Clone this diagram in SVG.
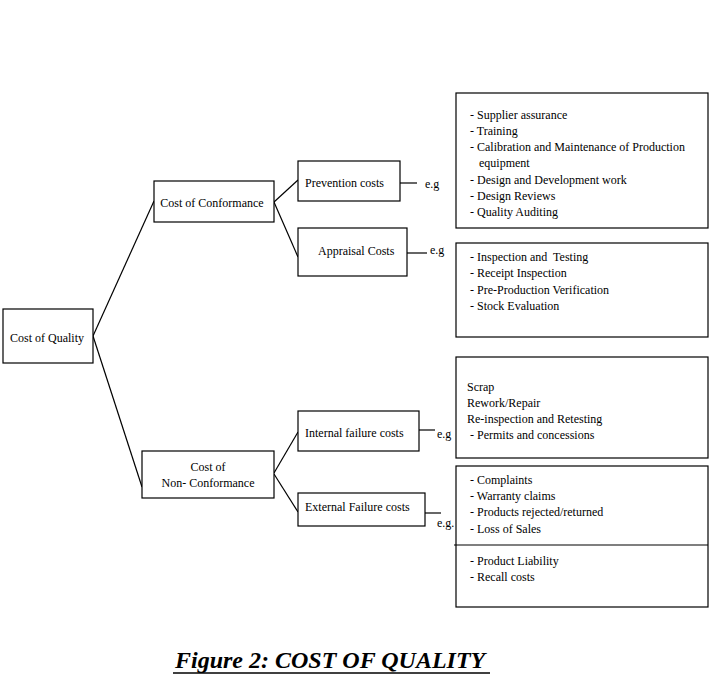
<svg xmlns="http://www.w3.org/2000/svg" width="722" height="681" viewBox="0 0 722 681">
<style>
rect{fill:#fff;stroke:#000;stroke-width:1.2}
line{stroke:#000;stroke-width:1.2}
text{font-family:"Liberation Serif","Times New Roman",serif;font-size:12px;fill:#000;white-space:pre}
.c{text-anchor:middle}
.t{font-size:24px;font-weight:bold;font-style:italic}
</style>
<rect x="0" y="0" width="722" height="681" style="stroke:none"/>
<g id="connectors">
<line x1="93" y1="336" x2="154" y2="201"/>
<line x1="93" y1="336" x2="142" y2="487"/>
<line x1="274" y1="202" x2="298" y2="180"/>
<line x1="274" y1="202" x2="298" y2="257"/>
<line x1="274" y1="473" x2="298" y2="432"/>
<line x1="274" y1="474" x2="298" y2="512"/>
<line x1="400" y1="183" x2="417" y2="183"/>
<line x1="407" y1="253" x2="427" y2="253"/>
<line x1="419" y1="430" x2="435" y2="430"/>
<line x1="425" y1="513" x2="441" y2="513"/>
</g>
<g id="cost-of-quality"><rect x="3" y="309" width="90" height="54"/><text x="47" y="342" class="c">Cost of Quality</text></g>
<g id="cost-of-conformance"><rect x="154" y="181" width="120" height="41"/><text x="212" y="207" class="c">Cost of Conformance</text></g>
<g id="cost-of-non-conformance"><rect x="142" y="451" width="132" height="47"/><text x="208" y="471" class="c">Cost of</text><text x="208" y="487" class="c">Non- Conformance</text></g>
<g id="prevention-costs"><rect x="298" y="161" width="102" height="40"/><text x="305" y="187">Prevention costs</text><text x="425" y="188">e.g</text></g>
<g id="appraisal-costs"><rect x="298" y="228" width="109" height="48"/><text x="318" y="255">Appraisal Costs</text><text x="430" y="254">e.g</text></g>
<g id="internal-failure-costs"><rect x="298" y="411" width="121" height="40"/><text x="305" y="437">Internal failure costs</text><text x="437" y="438">e.g</text></g>
<g id="external-failure-costs"><rect x="298" y="493" width="127" height="33"/><text x="305" y="511">External Failure costs</text><text x="437" y="527">e.g.</text></g>
<g id="prevention-examples"><rect x="456" y="93" width="252" height="135"/>
<text x="470" y="119">- Supplier assurance</text>
<text x="470" y="135">- Training</text>
<text x="470" y="151">- Calibration and Maintenance of Production</text>
<text x="479" y="167">equipment</text>
<text x="470" y="184">- Design and Development work</text>
<text x="470" y="200">- Design Reviews</text>
<text x="470" y="216">- Quality Auditing</text></g>
<g id="appraisal-examples"><rect x="456" y="243" width="252" height="94"/>
<text x="470" y="261">- Inspection and  Testing</text>
<text x="470" y="277">- Receipt Inspection</text>
<text x="470" y="294">- Pre-Production Verification</text>
<text x="470" y="310">- Stock Evaluation</text></g>
<g id="internal-examples"><rect x="456" y="357" width="252" height="101"/>
<text x="467" y="391">Scrap</text>
<text x="467" y="407">Rework/Repair</text>
<text x="467" y="423">Re-inspection and Retesting</text>
<text x="470" y="439">- Permits and concessions</text></g>
<g id="external-examples"><rect x="456" y="466" width="252" height="141"/>
<line x1="454" y1="545" x2="708" y2="545"/>
<text x="470" y="484">- Complaints</text>
<text x="470" y="500">- Warranty claims</text>
<text x="470" y="516">- Products rejected/returned</text>
<text x="470" y="533">- Loss of Sales</text>
<text x="470" y="565">- Product Liability</text>
<text x="470" y="581">- Recall costs</text></g>
<g id="title"><text x="175" y="668" class="t">Figure 2: COST OF QUALITY</text><line x1="173" y1="673" x2="490" y2="673" style="stroke-width:1.6"/></g>
</svg>
